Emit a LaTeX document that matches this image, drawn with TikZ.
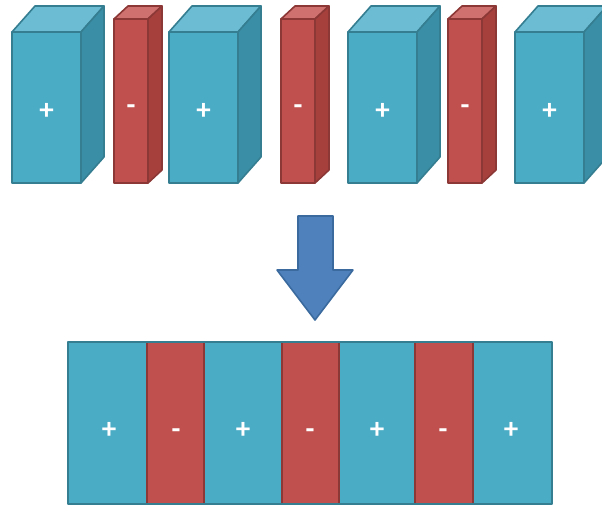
\documentclass[tikz,border=0pt]{standalone}
\usepackage{fontspec}
\setmainfont{Carlito}
\definecolor{bfront}{HTML}{4BACC6}
\definecolor{btop}{HTML}{6CBCD3}
\definecolor{bside}{HTML}{3A8FA6}
\definecolor{bline}{HTML}{357D91}
\definecolor{rfront}{HTML}{C0504D}
\definecolor{rtop}{HTML}{CF716E}
\definecolor{rside}{HTML}{A5403D}
\definecolor{rline}{HTML}{8C3836}
\definecolor{afill}{HTML}{4F81BD}
\definecolor{aline}{HTML}{3A6A9E}
\tikzset{
  face/.style={line width=1.6pt, line join=round},
  sign/.style={text=white, font=\fontsize{29}{29}\selectfont\bfseries, inner sep=0pt, text height=0.6em, text depth=0pt},
}
% #1 = left x, #2 = top y of front, #3 = width, #4 = dx, #5 = dy, #6 = prefix (b or r), #7 = label, #8 = node name, #9 = label y
\newcommand\myprism[9]{%
  \filldraw[face, fill=#6front, draw=#6line] (#1,#2) rectangle (#1+#3,183);
  \filldraw[face, fill=#6top, draw=#6line] (#1,#2) -- (#1+#4,#2-#5) -- (#1+#3+#4,#2-#5) -- (#1+#3,#2) -- cycle;
  \filldraw[face, fill=#6side, draw=#6line] (#1+#3,#2) -- (#1+#3+#4,#2-#5) -- (#1+#3+#4,183-#5) -- (#1+#3,183) -- cycle;
  \node[sign] (#8) at (#1+#3/2,#9) {#7};
}
\begin{document}
\begin{tikzpicture}[x=1pt,y=-1pt]
\useasboundingbox (0,0) rectangle (602,505);
\clip (0,0) rectangle (602,505);
% top row
\myprism{12}{32}{69}{23}{26}{b}{+}{p1}{117}
\myprism{114}{19}{34}{14}{13}{r}{-}{m1}{112}
\myprism{169}{32}{69}{23}{26}{b}{+}{p2}{117}
\myprism{281}{19}{34}{14}{13}{r}{-}{m2}{112}
\myprism{348}{32}{69}{23}{26}{b}{+}{p3}{117}
\myprism{448}{19}{34}{14}{13}{r}{-}{m3}{112}
\myprism{515}{32}{69}{23}{26}{b}{+}{p4}{117}
% arrow
\filldraw[face, fill=afill, draw=aline] (298,216) -- (333,216) -- (333,270) -- (353,270) -- (315,320) -- (277,270) -- (298,270) -- cycle;
% bottom bar
\fill[bfront] (68,342) rectangle (552,504);
\filldraw[face, fill=rfront, draw=rline] (147,342) rectangle (204,504);
\filldraw[face, fill=rfront, draw=rline] (282,342) rectangle (339,504);
\filldraw[face, fill=rfront, draw=rline] (415,342) rectangle (473,504);
\draw[face, draw=bline] (68,342) rectangle (552,504);
\node[sign] (q1) at (109,435) {+};
\node[sign] (n1) at (176,435) {-};
\node[sign] (q2) at (243,435) {+};
\node[sign] (n2) at (310,435) {-};
\node[sign] (q3) at (377,435) {+};
\node[sign] (n3) at (443,435) {-};
\node[sign] (q4) at (511,435) {+};
\end{tikzpicture}
\end{document}
